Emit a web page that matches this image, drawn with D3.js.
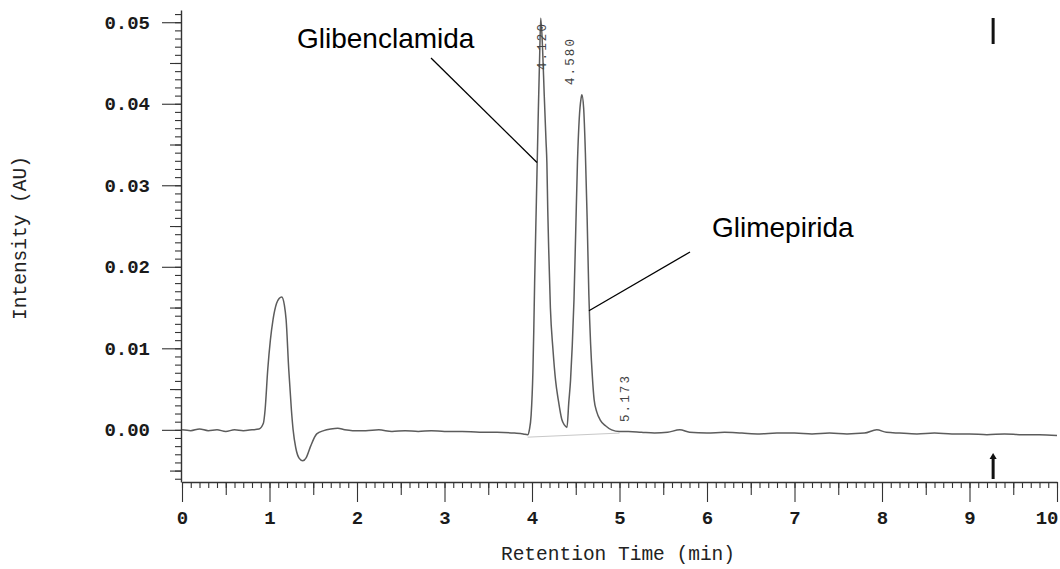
<!DOCTYPE html>
<html>
<head>
<meta charset="utf-8">
<script src="https://cdn.jsdelivr.net/npm/d3@7"></script>
<style>
  body { margin: 0; background: #fff; }
  .mono { font-family: "Liberation Mono", "Courier New", monospace; }
</style>
</head>
<body>
<div id="chart"></div>
<script>
// chromatogram trace
var retentionTime = [
  0.00, 0.10, 0.20, 0.30, 0.40, 0.50, 0.60, 0.70, 0.80, 0.88,
  0.93, 0.95, 0.98, 1.01, 1.04, 1.08, 1.11, 1.14, 1.17, 1.19,
  1.22, 1.25, 1.27, 1.30, 1.34, 1.38, 1.42, 1.47, 1.54, 1.62,
  1.70, 1.78, 1.86, 1.95, 2.10, 2.25, 2.40, 2.55, 2.70, 2.85,
  3.00, 3.20, 3.40, 3.60, 3.80, 3.90, 3.95, 3.97, 3.99, 4.01,
  4.02, 4.03, 4.05, 4.07, 4.09, 4.10, 4.12, 4.14, 4.16, 4.17,
  4.18, 4.19, 4.21, 4.24, 4.27, 4.30, 4.34, 4.37, 4.40, 4.42,
  4.44, 4.46, 4.48, 4.50, 4.52, 4.54, 4.56, 4.57, 4.59, 4.61,
  4.63, 4.65, 4.67, 4.69, 4.71, 4.74, 4.78, 4.84, 4.91, 5.00,
  5.10, 5.25, 5.40, 5.55, 5.69, 5.80, 6.00, 6.20, 6.40, 6.60,
  6.80, 7.00, 7.20, 7.40, 7.60, 7.80, 7.94, 8.05, 8.20, 8.40,
  8.60, 8.80, 9.00, 9.20, 9.40, 9.60, 9.80, 10.00
];
var intensity = [
  0.0000, -0.0001, 0.0001, -0.0001, 0.0000, -0.0002, 0.0000, -0.0001, 0.0000, 0.0001,
  0.0008, 0.0025, 0.0074, 0.0110, 0.0135, 0.0155, 0.0161, 0.0163, 0.0153, 0.0135,
  0.0074, 0.0025, 0.0000, -0.0022, -0.0035, -0.0038, -0.0034, -0.0020, -0.0005, -0.0001,
  0.0001, 0.0002, 0.0000, -0.0001, -0.0001, 0.0000, -0.0002, -0.0001, -0.0002, -0.0001,
  -0.0002, -0.0002, -0.0003, -0.0003, -0.0004, -0.0005, -0.0006, 0.0000, 0.0018, 0.0070,
  0.0120, 0.0180, 0.0280, 0.0380, 0.0470, 0.0505, 0.0470, 0.0410, 0.0355, 0.0328,
  0.0270, 0.0225, 0.0150, 0.0098, 0.0060, 0.0037, 0.0013, 0.0006, 0.0003, 0.0033,
  0.0060, 0.0103, 0.0160, 0.0245, 0.0330, 0.0382, 0.0406, 0.0411, 0.0395, 0.0340,
  0.0260, 0.0165, 0.0105, 0.0065, 0.0037, 0.0022, 0.0012, 0.0005, 0.0000, -0.0002,
  -0.0002, -0.0003, -0.0004, -0.0003, 0.0000, -0.0003, -0.0004, -0.0003, -0.0004, -0.0005,
  -0.0004, -0.0004, -0.0005, -0.0004, -0.0005, -0.0004, 0.0000, -0.0003, -0.0004, -0.0005,
  -0.0004, -0.0005, -0.0005, -0.0006, -0.0005, -0.0006, -0.0006, -0.0007
];

var xTickValues = [0, 1, 2, 3, 4, 5, 6, 7, 8, 9, 10];
var yTickValues = [0, 0.01, 0.02, 0.03, 0.04, 0.05];
var yTickLabels = ["0.00", "0.01", "0.02", "0.03", "0.04", "0.05"];

var peakLabels = ["4.120", "4.580", "5.173"];
var peakTimes = [4.12, 4.58, 5.173];

var compoundNames = ["Glibenclamida", "Glimepirida"];
var compoundTimes = [4.057, 4.651];
var compoundLevels = [0.0328, 0.0146];

var eventTime = 9.27;

var width = 1060;
var height = 569;

var svg = d3.select("#chart")
  .append("svg")
    .attr("width", width)
    .attr("height", height);

var x = d3.scaleLinear()
  .domain([0, 10])
  .range([182, 1057]);

var y = d3.scaleLinear()
  .domain([-0.0064, 0.0515])
  .range([482, 10]);

var axisColor = "#333";
var monoFont = "Liberation Mono, Courier New, monospace";

// x axis: minor, half and whole-minute ticks
svg.append("g")
    .attr("transform", "translate(0,482)")
    .call(d3.axisBottom(x).tickValues(d3.range(0, 10.001, 0.1)).tickSize(6).tickSizeOuter(0).tickFormat(""))
    .call(function(g) { g.select(".domain").attr("stroke", axisColor).attr("stroke-width", 1.4); });

svg.append("g")
    .attr("transform", "translate(0,482)")
    .call(d3.axisBottom(x).tickValues(d3.range(0.5, 10, 1)).tickSize(13).tickFormat(""))
    .call(function(g) { g.select(".domain").remove(); });

svg.append("g")
    .attr("transform", "translate(0,482)")
    .call(d3.axisBottom(x).tickValues(xTickValues).tickSize(20).tickPadding(9).tickFormat(d3.format("d")))
    .call(function(g) { g.select(".domain").remove(); })
    .call(function(g) {
      g.selectAll("text")
        .attr("font-size", 19)
        .attr("font-weight", "bold")
        .attr("fill", "#1a1a1a")
        .attr("font-family", monoFont)
        .filter(function(d) { return d === 10; })
          .attr("text-anchor", "end")
          .attr("dx", 1);
    });

// y axis
svg.append("g")
    .attr("transform", "translate(181,0)")
    .call(d3.axisLeft(y).tickValues(d3.range(-0.006, 0.0515, 0.001)).tickSize(6).tickSizeOuter(0).tickFormat(""))
    .call(function(g) { g.select(".domain").attr("stroke", axisColor).attr("stroke-width", 1.4); });

svg.append("g")
    .attr("transform", "translate(181,0)")
    .call(d3.axisLeft(y).tickValues([-0.005, 0.005, 0.015, 0.025, 0.035, 0.045]).tickSize(11).tickFormat(""))
    .call(function(g) { g.select(".domain").remove(); });

svg.append("g")
    .attr("transform", "translate(181,0)")
    .call(d3.axisLeft(y).tickValues(yTickValues).tickSize(19).tickPadding(12)
      .tickFormat(function(d, i) { return yTickLabels[i]; }))
    .call(function(g) { g.select(".domain").remove(); })
    .call(function(g) {
      g.selectAll("text")
        .attr("font-size", 19)
        .attr("font-weight", "bold")
        .attr("fill", "#1a1a1a")
        .attr("font-family", monoFont);
    });

svg.selectAll(".tick line").attr("stroke", axisColor).attr("stroke-width", 1.1);

// axis titles
svg.append("text")
    .attr("class", "mono")
    .attr("x", 618)
    .attr("y", 560)
    .attr("text-anchor", "middle")
    .attr("font-size", 19.5)
    .attr("fill", "#222")
    .text("Retention Time (min)");

svg.append("text")
    .attr("class", "mono")
    .attr("transform", "translate(26,238) rotate(-90)")
    .attr("text-anchor", "middle")
    .attr("font-size", 19.5)
    .attr("fill", "#222")
    .text("Intensity (AU)");

// integration baseline under the two main peaks
svg.append("line")
    .attr("x1", x(3.95)).attr("y1", y(-0.0009))
    .attr("x2", x(5.0)).attr("y2", y(-0.0004))
    .attr("stroke", "#c8c8c8")
    .attr("stroke-width", 1);

var points = retentionTime.map(function(t, i) { return [t, intensity[i]]; });

var line = d3.line()
    .x(function(d) { return x(d[0]); })
    .y(function(d) { return y(d[1]); })
    .curve(d3.curveMonotoneX);

svg.append("path")
    .datum(points)
    .attr("fill", "none")
    .attr("stroke", "#5c5c5c")
    .attr("stroke-width", 1.5)
    .attr("d", line);

// printed retention times, rotated like on the recorder paper
var labelShift = [-1, -13, -10];
var labelBottom = [70, 85, 422];
svg.selectAll(".peak-label")
  .data(peakLabels)
  .enter()
  .append("text")
    .attr("class", "peak-label mono")
    .attr("transform", function(d, i) {
      return "translate(" + (x(peakTimes[i]) + labelShift[i]) + "," + labelBottom[i] + ") rotate(-90)";
    })
    .attr("dy", "0.35em")
    .attr("font-size", 12.5)
    .attr("textLength", 46)
    .attr("lengthAdjust", "spacing")
    .attr("fill", "#444")
    .text(function(d) { return d; });

// compound annotations with leader lines
var leaderStart = [[431, 58], [690, 252]];
var namePos = [[297, 48], [712, 237]];

compoundNames.forEach(function(name, i) {
  svg.append("line")
      .attr("x1", leaderStart[i][0]).attr("y1", leaderStart[i][1])
      .attr("x2", x(compoundTimes[i])).attr("y2", y(compoundLevels[i]))
      .attr("stroke", "#000")
      .attr("stroke-width", 1.3);

  svg.append("text")
      .attr("x", namePos[i][0])
      .attr("y", namePos[i][1])
      .attr("font-family", "Liberation Sans, Arial, sans-serif")
      .attr("font-size", 28)
      .attr("fill", "#000")
      .text(name);
});

// event marks at the right edge
svg.append("line")
    .attr("x1", x(eventTime)).attr("y1", 18)
    .attr("x2", x(eventTime)).attr("y2", 44)
    .attr("stroke", "#111")
    .attr("stroke-width", 3);

svg.append("line")
    .attr("x1", x(eventTime)).attr("y1", 458)
    .attr("x2", x(eventTime)).attr("y2", 479)
    .attr("stroke", "#111")
    .attr("stroke-width", 3);

svg.append("path")
    .attr("d", d3.symbol().type(d3.symbolTriangle).size(22))
    .attr("transform", "translate(" + x(eventTime) + ",457)")
    .attr("fill", "#111");
</script>
</body>
</html>
